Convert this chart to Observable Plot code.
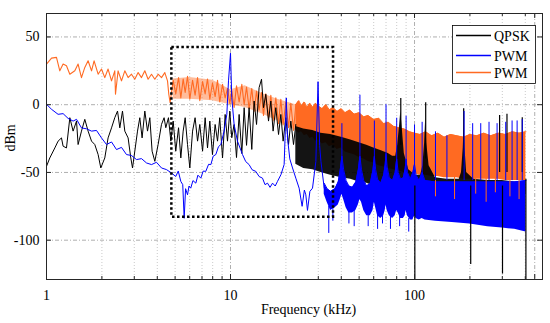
<!DOCTYPE html>
<html>
<head>
<meta charset="utf-8">
<script src="https://cdn.jsdelivr.net/npm/d3@7"></script>
<script src="https://cdn.jsdelivr.net/npm/@observablehq/plot@0.6"></script>
<style>
  html, body { margin: 0; padding: 0; background: #fff; }
  #chart { width: 550px; height: 323px; }
  #chart svg, #chart svg text { font-family: "Liberation Serif", "Times New Roman", "DejaVu Serif", serif !important; }
</style>
</head>
<body>
<div id="chart"></div>
<script>
// ---------- axes / labels ----------
const xTicks = [1, 10, 100, 450];
const xMajorGrid = [10, 100, 450];
const xMinor = [2, 3, 4, 5, 6, 7, 8, 9, 20, 30, 40, 50, 60, 70, 80, 90, 200, 300, 400];
const yTicks = [-100, -50, 0, 50];
const seriesNames = ["QPSK", "PWM", "PWM"];
const seriesColors = ["#000000", "#0000ff", "#ff6a22"];
const xLabel = "Frequency (kHz)";
const yLabel = "dBm";

// ---------- dotted zoom box ----------
const boxF = [4.8, 36.3];
const boxV = [-83, 42.3];

// ---------- QPSK (black) ----------
const qpskF = [1, 1.042, 1.11, 1.156, 1.206, 1.231, 1.284, 1.339, 1.395, 1.456,
  1.485, 1.549, 1.615, 1.683, 1.757, 1.830, 1.908, 1.973, 2.074, 2.161,
  2.256, 2.350, 2.432, 2.503, 2.588, 2.664, 2.777, 2.872, 2.934, 3.019,
  3.123, 3.215, 3.308, 3.422, 3.539, 3.643, 3.749, 3.879, 4.042, 4.217,
  4.356, 4.45, 4.60, 4.74, 4.88, 5.04, 5.22, 5.37, 5.53, 5.67,
  5.84, 6.01, 6.22, 6.42, 6.62, 6.81, 7.05, 7.28, 7.50, 7.72,
  7.98, 8.25, 8.50, 8.74, 9.05, 9.35, 9.63, 9.91, 10.16, 10.46,
  10.78, 11.14, 11.52, 11.86, 12.22, 12.62, 13.05, 13.44, 13.85, 14.30,
  14.74, 15.11, 15.55, 16.09, 16.56, 17.04, 17.63, 18.24, 18.77, 19.32,
  19.98, 20.67, 21.27, 22.00, 22.64];
const qpskV = [-45.5, -39.3, -31.9, -26.9, -24.5, -30.6, -31.9, -9.6, -19.5, -12.1,
  -29.4, -19.5, -10.8, -19.5, -26.9, -29.4, -36.8, -46.7, -39.3, -24.5,
  -17.1, -9.6, -4.7, -17.1, -4.7, -19.5, -24.5, -39.3, -46.7, -34.3,
  -19.5, -9.6, -24.5, -4.7, -19.5, -9.6, -34.3, -41.8, -29.4, -14.5,
  -9.6, -17.0, -9.6, -26.9, -12.1, -34.3, -17.0, -39.3, -19.5, -9.6,
  -29.4, -46.7, -19.5, -9.6, -26.9, -14.6, -34.3, -9.6, -31.9, -12.1,
  -36.8, -14.6, -26.9, -9.6, -39.3, -7.2, -26.9, -4.7, -24.4, -14.6,
  -39.0, -7.2, -36.0, -2.2, -30.0, -2.2, -33.0, 2.7, -14.6, 12.6,
  18.8, -2.2, 7.7, -12.1, 2.7, -19.5, -2.2, -22.0, -7.2, -26.9,
  -9.6, -29.4, -12.1, -29.4, -14.6];
const qpskBandF = [22.64, 25, 28, 31, 35, 40, 45, 50, 55, 60, 66, 72, 76, 79, 81, 83, 84.2, 85.5, 88, 93, 97,
  102, 108, 111, 113.5, 115, 116.5, 120, 130, 150, 175, 180, 184, 186, 188, 192, 210, 250, 300, 350, 403];
const qpskBandHi = [-16, -18, -19, -21, -22, -24, -26, -28, -30, -32, -34, -36, -38, -38, -30, -15, -5, -15, -36, -48, -50,
  -52, -52, -45, -28, -10, -28, -45, -54, -55, -55, -50, -32, -15, -32, -50, -55, -56, -56, -57, -57];
const qpskBandLo = [-44, -47, -48, -50, -52, -54, -55, -57, -58, -60, -62, -63, -64, -65, -66, -67, -68, -69, -72, -76, -85,
  -80, -75, -72, -70, -70, -68, -65, -62, -62, -62, -62, -62, -62, -62, -62, -64, -65, -65, -66, -66];
const qpskSpikeF = [84.2, 115, 185, 290, 318, 385, 100.4, 202, 300.7, 403];
const qpskSpikeFrom = [-30, -40, -45, -50, -50, -50, -60, -60, -60, -55];
const qpskSpikeTo = [4.5, 1.5, -3, -8, -7, -9.6, -130, -118, -125, -130];

// ---------- PWM (blue) ----------
const pwmBlueF = [1, 1.065, 1.156, 1.231, 1.31, 1.395, 1.456, 1.549, 1.65, 1.757,
  1.87, 1.99, 2.119, 2.256, 2.401, 2.556, 2.721, 2.897, 3.084, 3.283,
  3.495, 3.721, 3.961, 4.217, 4.489, 4.779, 5.04, 5.2, 5.37, 5.5,
  5.6, 5.7, 5.84, 5.95, 6.08, 6.25, 6.48, 6.65, 6.9, 7.1,
  7.34, 7.6, 7.82, 8.05, 8.32, 8.6, 8.86, 9.23, 9.55, 9.75,
  10, 10.16, 10.46, 10.91, 11.62, 12.1, 12.62, 13.1, 13.72, 14.3,
  14.92, 15.4, 15.89, 16.4, 16.92, 17.5, 18.0, 18.8, 19.56, 19.85,
  20.1, 20.4, 21.0, 21.73, 22.64, 23.6, 24.5, 25.2, 25.66, 26.2,
  27.0, 27.9, 29.1, 29.9, 30.5, 31.0, 32.3];
const pwmBlueV = [0.3, -3.4, -7.1, -6.6, -10.1, -12.1, -10.8, -17.1, -17.8, -19.5,
  -19.0, -24.5, -29.4, -27.5, -33.1, -31.5, -36.8, -37.5, -40.5, -39.8,
  -43.0, -44.2, -42.5, -46.7, -47.9, -50.4, -53, -49, -56.6, -59,
  -83.8, -62, -66.5, -60, -61.6, -56, -57.9, -52, -54.2, -49,
  -49.2, -44, -44.2, -38, -36.8, -31, -29.4, -19.5, -7.1, 17.6,
  38, 5.2, -14.5, -26.9, -36.8, -42, -44.2, -48, -49.2, -53,
  -54.2, -59, -57.9, -61, -57.9, -60, -56.6, -51.6, -44.2, -19.5,
  5, -24.5, -40, -46.7, -54.2, -61.6, -75, -63, -66.5, -78,
  -64, -61.6, -41.8, 17, -30, -41.8, -61.6];
const pwmBlueBandF = [32.3, 33.5, 35, 37, 38.5, 39.5, 40.3, 41.2, 42.5, 44, 46, 48, 49.5, 50.5, 51.5, 53, 55, 57.5,
  59.5, 60.5, 61.5, 63, 65.5, 68, 69.3, 70, 71, 73, 76, 78.5, 80, 81.5, 84, 87, 89, 90, 91.5, 95, 98,
  100, 102, 106, 110, 114, 130, 160, 200, 250, 300, 350, 403];
const pwmBlueBandHi = [-58, -62, -64, -62, -57, -48, -38, -48, -56, -60, -61, -57, -48, -38, -48, -56, -60, -58,
  -48, -38, -48, -55, -58, -52, -44, -36, -46, -54, -56, -50, -40, -50, -55, -54, -47, -40, -50, -55, -50,
  -44, -52, -56, -50, -56, -57, -57, -57, -57, -57, -57, -56];
const pwmBlueBandLo = [-66, -72, -78, -76, -74, -70, -66, -70, -76, -80, -80, -78, -74, -70, -72, -78, -82, -82,
  -78, -72, -76, -82, -84, -82, -78, -74, -78, -82, -84, -82, -78, -80, -84, -84, -82, -78, -82, -85, -85,
  -82, -84, -85, -84, -85, -86, -87, -88, -90, -91, -92, -94];
const pwmBlueSpikeF = [40.3, 50.5, 60.5, 70, 80, 90, 100, 110, 130, 150, 186, 207, 229, 254, 281, 313, 339, 361, 385,
  34.2, 36, 44, 47, 56, 63, 67, 74, 83, 93];
const pwmBlueSpikeFrom = [-45, -45, -45, -45, -45, -45, -45, -56, -56, -56, -56, -56, -56, -56, -56, -56, -56, -56, -56,
  -75, -75, -76, -78, -80, -80, -82, -82, -82, -84];
const pwmBlueSpikeTo = [-14, 7, -12, 0, -10, -8.5, -15, -13, -20, -23, -5, -14, -14, -13, -14, -13, -12, -12, -11,
  -95, -86, -88, -90, -90, -92, -88, -92, -90, -94];

// ---------- PWM (orange) ----------
const pwmOrangeF = [1, 1.065, 1.133, 1.181, 1.231, 1.284, 1.339, 1.425, 1.485, 1.549,
  1.615, 1.683, 1.757, 1.814, 1.908, 1.99, 2.074, 2.161, 2.256, 2.35,
  2.371, 2.449, 2.556, 2.664, 2.777, 2.897, 3.019, 3.147, 3.283, 3.422,
  3.566, 3.721, 3.879, 4.042, 4.217, 4.395, 4.546, 4.62, 4.696,
  4.88, 5.04, 5.22, 5.37, 5.53, 5.67, 5.84, 6.01, 6.22, 6.42,
  6.62, 6.81, 7.05, 7.28, 7.50, 7.72, 7.98, 8.25, 8.50, 8.74,
  9.05, 9.35, 9.63, 9.91, 10.16, 10.46, 10.78, 11.14, 11.52, 11.86,
  12.22, 12.62, 13.05, 13.44, 13.85, 14.30, 14.74, 15.11, 15.55, 16.09,
  16.56, 17.04, 17.63, 18.24, 18.77, 19.32, 19.98, 20.67, 21.27, 22.00, 22.64];
const pwmOrangeV = [30, 34.4, 34.9, 25, 30, 28.7, 22.5, 25, 30, 20,
  27.5, 32.4, 25, 32.4, 22.5, 26.3, 20, 26.3, 17.6, 25,
  7.7, 25, 17.6, 25, 20, 22.5, 18.8, 23.7, 20, 25,
  18.8, 22.5, 18.8, 22.5, 20, 23.7, 17.6, 7.7, 1.5,
  18, 8, 20, 5, 19, 9, 21, 4, 18, 7,
  20, 3, 17, 8, 19, 4, 16, 6, 18, 2,
  15, 5, 12, 1, 10, -2, 14, 2, 15, 0,
  13, -3, 12, -5, 10, -4, 9, -8, 8, -10,
  7, -12, 5, -14, 4, -15, 2, -17, 1, -19, 0];
// envelope of the dense 5-22 kHz orange trace
const pwmOrangeEnvF = [4.88, 6, 8, 10, 12, 15, 18, 22.64];
const pwmOrangeEnvLo = [4, 4, 3, 0, -2, -7, -12, -19];
const pwmOrangeEnvHi = [19, 20, 18, 11, 14, 8, 4, 0];
const pwmOrangeBandF = [22.64, 23.5, 24.3, 25.2, 26.1, 27.0, 28.0, 29.0, 30.0, 31.5, 33, 34.5, 36, 38, 40, 42, 44.5, 47,
  50, 53, 56, 60, 64, 68, 72, 77, 82, 88, 94, 100, 107, 115, 124, 134, 145, 157, 170, 185, 200,
  218, 238, 260, 285, 312, 340, 370, 403];
const pwmOrangeBandHi = [0, 3, -1, 2, -2, 1, -2, 1, -1, -3, 0, -4, -2, -5, -3, -6, -4, -7,
  -6, -9, -8, -11, -10, -14, -13, -16, -17, -18, -20, -21, -22, -20, -23, -21, -24, -22, -23, -24, -22,
  -23, -21, -23, -21, -22, -20, -21, -20];
const pwmOrangeBandLo = [-19, -21, -20, -23, -22, -25, -24, -27, -26, -29, -28, -31, -30, -33, -32, -35, -36, -37,
  -39, -40, -42, -43, -45, -46, -47, -48, -49, -50, -50, -51, -52, -52, -53, -53, -54, -54, -54, -55, -55,
  -55, -55, -55, -55, -56, -56, -56, -56];
const pwmOrangeDipF = [130, 165, 215, 245, 275, 330, 370];
const pwmOrangeDipFrom = [-52, -53, -54, -54, -54, -55, -55];
const pwmOrangeDipTo = [-68, -70, -66, -72, -65, -68, -70];

// ---------- chart ----------
const [cQ, cB, cO] = seriesColors;
const gridMajor = {stroke: "#9a9a9a", strokeWidth: 0.8, strokeDasharray: "4,2,1,2"};
const gridMinor = {stroke: "#bdbdbd", strokeWidth: 0.8, strokeDasharray: "1,2"};
const plotH = 323 - 13 - 44;
const plotW = 550 - 46 - 8;
const serif = "Liberation Serif, Times New Roman, DejaVu Serif, serif";

const chart = Plot.plot({
  width: 550,
  height: 323,
  marginLeft: 46,
  marginRight: 8,
  marginTop: 13,
  marginBottom: 44,
  x: {type: "log", domain: [1, 496]},
  y: {domain: [-129, 67.3]},
  style: {fontFamily: serif, fontSize: "14px", background: "#fff", color: "#000"},
  marks: [
    // grid
    Plot.ruleX(xMinor, {x: d => d, ...gridMinor}),
    Plot.ruleX(xMajorGrid, {x: d => d, ...gridMajor}),
    Plot.ruleY(yTicks, {y: d => d, ...gridMajor}),
    // orange PWM
    Plot.areaY(pwmOrangeEnvF, {x: pwmOrangeEnvF, y1: pwmOrangeEnvLo, y2: pwmOrangeEnvHi, fill: cO, fillOpacity: 0.45}),
    Plot.areaY(pwmOrangeBandF, {x: pwmOrangeBandF, y1: pwmOrangeBandLo, y2: pwmOrangeBandHi, fill: cO, clip: true}),
    Plot.line(pwmOrangeBandF, {x: pwmOrangeBandF, y: pwmOrangeBandHi, stroke: cO, strokeWidth: 1, clip: true}),
    Plot.line(pwmOrangeF, {x: pwmOrangeF, y: pwmOrangeV, stroke: cO, strokeWidth: 1.1, clip: true}),
    // black QPSK
    Plot.areaY(qpskBandF, {x: qpskBandF, y1: qpskBandLo, y2: qpskBandHi, fill: cQ, fillOpacity: 0.92, clip: true}),
    Plot.line(qpskF, {x: qpskF, y: qpskV, stroke: cQ, strokeWidth: 1, clip: true}),
    // blue PWM
    Plot.areaY(pwmBlueBandF, {x: pwmBlueBandF, y1: pwmBlueBandLo, y2: pwmBlueBandHi, fill: cB, clip: true}),
    Plot.line(pwmBlueBandF, {x: pwmBlueBandF, y: pwmBlueBandHi, stroke: cB, strokeWidth: 1, clip: true}),
    Plot.line(pwmBlueF, {x: pwmBlueF, y: pwmBlueV, stroke: cB, strokeWidth: 1, clip: true}),
    // spikes
    Plot.ruleX(pwmOrangeDipF, {x: pwmOrangeDipF, y1: pwmOrangeDipFrom, y2: pwmOrangeDipTo, stroke: cO, strokeWidth: 1, clip: true}),
    Plot.ruleX(qpskSpikeF, {x: qpskSpikeF, y1: qpskSpikeFrom, y2: qpskSpikeTo, stroke: cQ, strokeWidth: 1.2, clip: true}),
    Plot.ruleX(pwmBlueSpikeF, {x: pwmBlueSpikeF, y1: pwmBlueSpikeFrom, y2: pwmBlueSpikeTo, stroke: cB, strokeWidth: 1, clip: true}),
    // dotted box
    Plot.rect([0], {x1: boxF[0], x2: boxF[1], y1: boxV[0], y2: boxV[1], fill: "none", stroke: "#000", strokeWidth: 2.5, strokeDasharray: "2.5,2.5"}),
    // frame & inner ticks
    Plot.frame({stroke: "#262626", strokeWidth: 1}),
    Plot.ruleX(xTicks.slice(1), {x: d => d, stroke: "#262626", insetTop: plotH - 5}),
    Plot.ruleX(xTicks.slice(1), {x: d => d, stroke: "#262626", insetBottom: plotH - 5}),
    Plot.ruleX(xMinor, {x: d => d, stroke: "#262626", insetTop: plotH - 3}),
    Plot.ruleX(xMinor, {x: d => d, stroke: "#262626", insetBottom: plotH - 3}),
    Plot.ruleY(yTicks, {y: d => d, stroke: "#262626", insetRight: plotW - 5}),
    Plot.ruleY(yTicks, {y: d => d, stroke: "#262626", insetLeft: plotW - 5}),
    // axes
    Plot.axisX(xTicks, {tickSize: 0, tickPadding: 11, tickFormat: d => String(d), label: null, fontSize: 14, fontFamily: serif}),
    Plot.axisY(yTicks, {tickSize: 0, tickPadding: 7, tickFormat: d => String(d), label: null, fontSize: 14, fontFamily: serif}),
    Plot.text([xLabel], {frameAnchor: "bottom", lineAnchor: "top", dx: 14, dy: 25, fontSize: 14, fontFamily: serif}),
    Plot.text([yLabel], {frameAnchor: "left", rotate: -90, dx: -35.5, dy: 5, fontSize: 14, fontFamily: serif})
  ]
});

document.getElementById("chart").appendChild(chart);

// legend (inside the axes, top-right)
const svg = d3.select(chart);
const lg = svg.append("g").attr("font-family", serif).attr("font-size", 14).attr("text-anchor", "start");
lg.append("rect").attr("x", 452.5).attr("y", 25.5).attr("width", 83).attr("height", 58)
  .attr("fill", "#fff").attr("stroke", "#000").attr("stroke-width", 0.8);
const legendY = [35.5, 55.5, 72.5];
seriesNames.forEach((name, i) => {
  lg.append("line").attr("x1", 456).attr("x2", 491).attr("y1", legendY[i]).attr("y2", legendY[i])
    .attr("stroke", seriesColors[i]).attr("stroke-width", 1.5);
  lg.append("text").attr("x", 494).attr("y", legendY[i] + 5).attr("text-anchor", "start")
    .text(name).attr("fill", "#000");
});
</script>
</body>
</html>
